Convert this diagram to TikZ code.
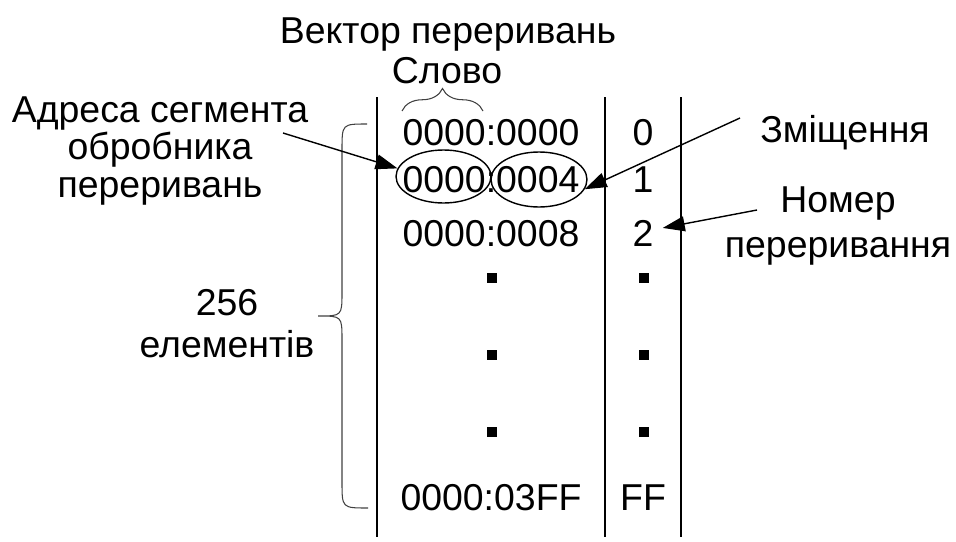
\documentclass[tikz,border=0pt]{standalone}
\usepackage{fontspec}
\setmainfont{Liberation Sans}
\usetikzlibrary{arrows.meta,shapes.geometric,decorations.pathreplacing}

\begin{document}
\begin{tikzpicture}[x=0.02cm,y=-0.02cm,
    txt/.style={anchor=base,inner sep=0pt,align=center,font=\fontsize{21.3}{21}\selectfont},
    oval/.style={draw,ellipse,inner sep=0pt,line width=0.8pt},
    ptr/.style={-{Triangle[length=0.44cm,width=0.3cm]},line width=0.8pt},
    dot/.style={fill,inner sep=0pt,minimum size=0.2cm},
    brc/.style={draw=black!75,line width=0.6pt}]
    \useasboundingbox (0,0) rectangle (956,541);
    %\draw[help lines,step=50] (0,0) grid (956,541);

    % table columns
    \draw[line width=1.1pt] (377,97) -- (377,537);
    \draw[line width=1.1pt] (605,97) -- (605,537);
    \draw[line width=1.1pt] (681,97) -- (681,537);

    % headings
    \node[txt] (title) at (448,43) {Вектор переривань};
    \node[txt] (word) at (447,83) {Слово};
    \draw[brc,decorate,decoration={brace,amplitude=0.45cm}] (402,111) -- (483,111);

    % table rows
    \node[txt] (r0) at (491,145) {0000:0000};
    \node[txt] (r1) at (491,192) {0000:0004};
    \node[txt] (r2) at (491,246) {0000:0008};
    \node[txt] (rN) at (491,510) {0000:03FF};
    \node[txt] (n0) at (643,145) {0};
    \node[txt] (n1) at (643,192) {1};
    \node[txt] (n2) at (643,246) {2};
    \node[txt] (nN) at (643,510) {FF};
    \foreach \y in {278,355,432} {
        \node[dot] (ra\y) at (492,\y) {};
        \node[dot] (na\y) at (644,\y) {};
    }

    % segment and offset
    \node[oval,minimum width=1.9cm,minimum height=1.06cm] (seg) at (443.5,176.5) {};
    \node[oval,minimum width=1.92cm,minimum height=1.1cm] (ofs) at (539,179.5) {};

    % labels (anchored at the last line)
    \node[txt,font=\fontsize{21.3}{0.75cm}\selectfont] (adr) at (160,197)
        {Адреса сегмента\\обробника\\переривань};
    \node[txt] (shift) at (845,142) {Зміщення};
    \node[txt,font=\fontsize{21.3}{0.9cm}\selectfont] (num) at (838,257) {Номер\\переривання};
    \node[txt,font=\fontsize{21.3}{0.84cm}\selectfont] (cnt) at (227,357) {256\\елементів};

    % brace over all 256 entries
    \draw[brc] (367,124) .. controls (342,124) .. (342,150) -- (342,292)
        .. controls (342,316) .. (318,316) .. controls (342,316) .. (342,340)
        -- (342,482) .. controls (342,508) .. (368,508);

    % pointers
    \coordinate (adr_end) at (283,133);
    \coordinate (shift_end) at (740,118);
    \coordinate (num_end) at (757,210);
    \draw[ptr] (adr_end) -- (seg.170);
    \draw[ptr] (shift_end) -- (ofs.-12);
    \draw[ptr] (num_end) -- ([shift={(0.18cm,0.1cm)}]n2.east);
\end{tikzpicture}
\end{document}
